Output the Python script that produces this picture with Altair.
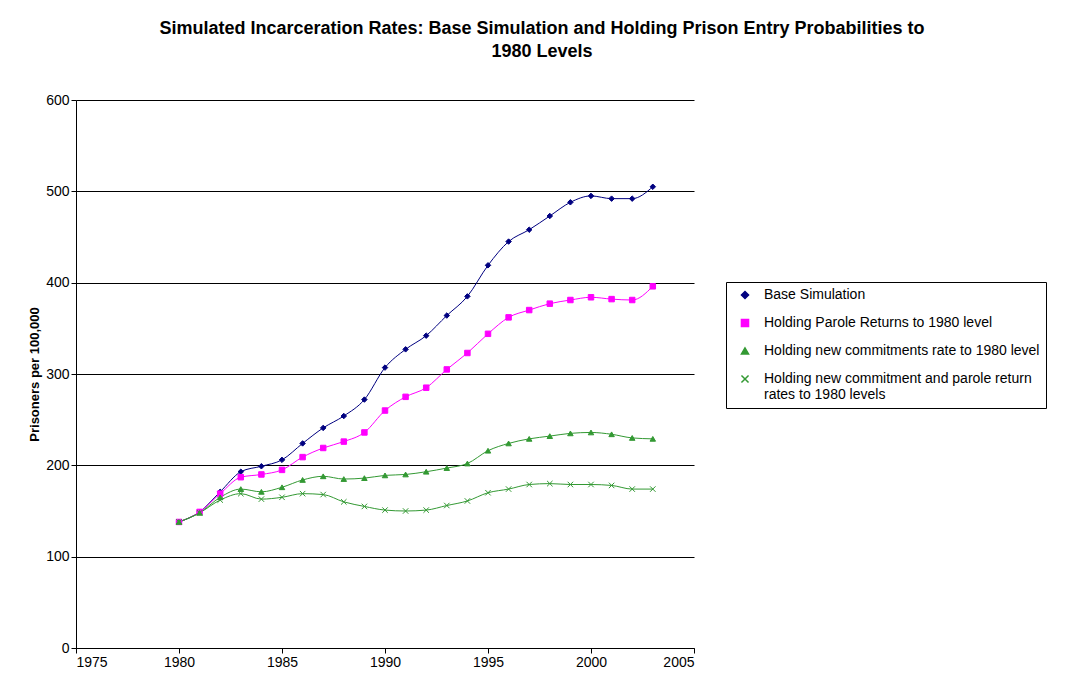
import altair as alt
import pandas as pd

years = list(range(1980, 2004))
base = [138, 149, 171, 193, 199, 206, 224, 241, 254, 272, 307, 327, 342, 364, 385, 419, 445, 458, 473, 488, 495, 492, 492, 505]
parole = [138, 149, 169, 187, 190, 195, 209, 219, 226, 236, 260, 275, 285, 305, 323, 344, 362, 370, 377, 381, 384, 382, 381, 396]
newcom = [138, 148, 165, 174, 171, 176, 184, 188, 185, 186, 189, 190, 193, 197, 202, 216, 224, 229, 232, 235, 236, 234, 230, 229]
both = [138, 148, 162, 169, 163, 165, 169, 168, 160, 155, 151, 150, 151, 156, 161, 170, 174, 179, 180, 179, 179, 178, 174, 174]

names = [
    "Base Simulation",
    "Holding Parole Returns to 1980 level",
    "Holding new commitments rate to 1980 level",
    "Holding new commitment and parole return rates to 1980 levels",
]
colors = ["#000080", "#FF00FF", "#339933", "#339933"]
fills = ["#000080", "#FF00FF", "#339933", "transparent"]
shapes = ["diamond", "square", "triangle-up", "M-1,-1L1,1M-1,1L1,-1"]

rows = []
for n, vals in zip(names, [base, parole, newcom, both]):
    for y, v in zip(years, vals):
        rows.append({"year": y, "value": v, "series": n})
df = pd.DataFrame(rows)

font = "Liberation Sans"
x = alt.X("year:Q", scale=alt.Scale(domain=[1975, 2005], nice=False), title=None,
          axis=alt.Axis(values=list(range(1975, 2006, 5)), format="d", grid=False,
                        tickSize=5, domainColor="black", tickColor="black"))
y = alt.Y("value:Q", scale=alt.Scale(domain=[0, 600]), title="Prisoners per 100,000",
          axis=alt.Axis(values=list(range(0, 601, 100)), grid=True, gridColor="black",
                        tickSize=5, domainColor="black", tickColor="black",
                        titleFontSize=13, titleFont=font, titleFontWeight="bold"))

leg = alt.Legend(
    title=None,
    labelExpr="datum.label == 'Holding new commitment and parole return rates to 1980 levels' ? ['Holding new commitment and parole return', 'rates to 1980 levels'] : datum.label",
)
stroke = alt.Stroke("series:N", sort=names, scale=alt.Scale(domain=names, range=colors), legend=leg)
lines = alt.Chart(df).mark_line(interpolate="monotone", strokeWidth=1).encode(
    x=x, y=y, stroke=stroke, detail="series:N")
points = alt.Chart(df).mark_point(size=30, strokeWidth=1, opacity=1).encode(
    x=x, y=y, stroke=stroke,
    fill=alt.Fill("series:N", sort=names, scale=alt.Scale(domain=names, range=fills), legend=leg),
    shape=alt.Shape("series:N", sort=names, scale=alt.Scale(domain=names, range=shapes), legend=leg))

chart = (lines + points).properties(
    width=618, height=548,
    padding={"left": 20, "top": 12, "right": 0, "bottom": 5},
    title=alt.TitleParams(
        ["Simulated Incarceration Rates: Base Simulation and Holding Prison Entry Probabilities to", "1980 Levels"],
        font=font, fontSize=18, fontWeight="bold", anchor="middle", dx=157, offset=32, lineHeight=23),
).configure_view(stroke=None).configure_axis(
    labelFont=font, labelFontSize=14, labelColor="black"
).configure_legend(
    orient="none", legendX=650, legendY=182, strokeColor="black", padding=6,
    labelFont=font, labelFontSize=14, labelColor="black", labelLimit=300, rowPadding=14,
    symbolSize=50, labelOffset=12, symbolOffset=6,
)

chart.save("out.html", embed_options={"renderer": "svg", "actions": False})
